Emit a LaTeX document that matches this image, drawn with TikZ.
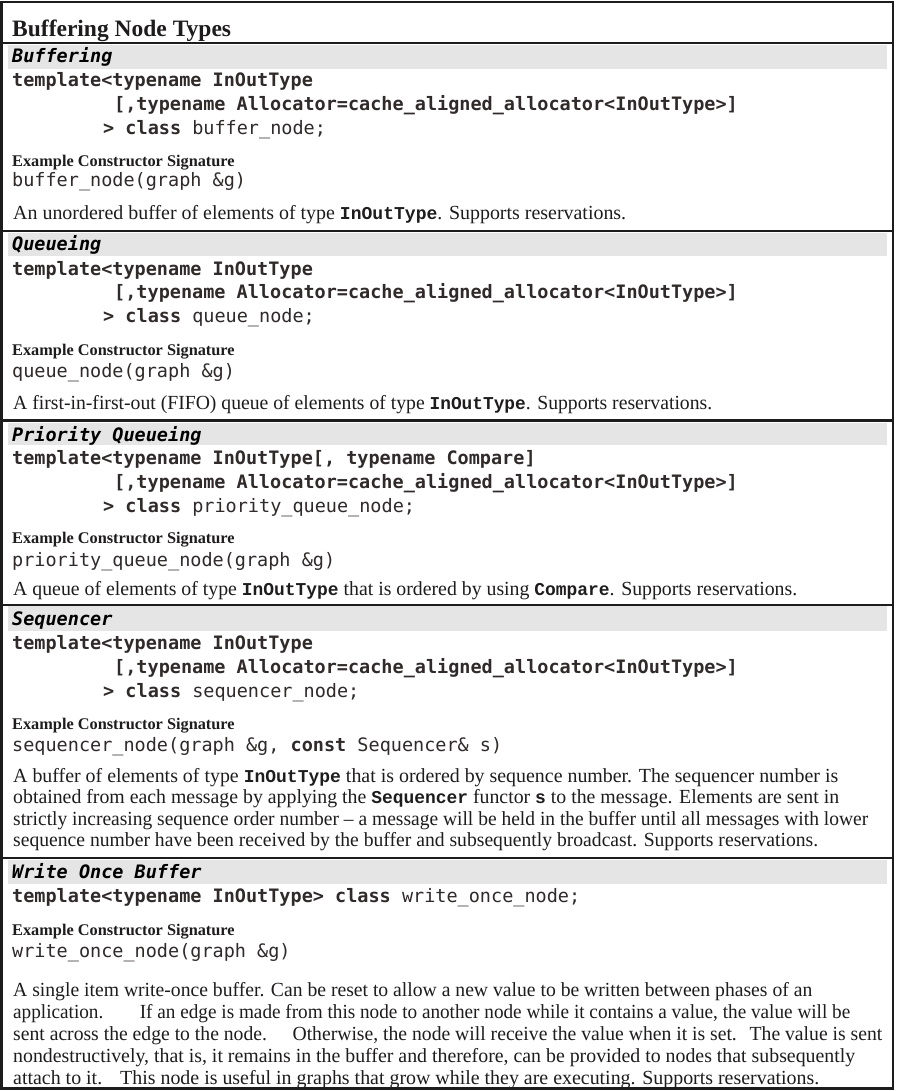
\documentclass[tikz,border=0pt]{standalone}
\usepackage{fontspec}
\usepackage{graphicx}
\setmainfont{Liberation Serif}
\newfontfamily\codefont{DejaVu Sans Mono}[BoldFont={DejaVu Sans Mono Bold},ItalicFont={DejaVu Sans Mono Oblique},BoldItalicFont={DejaVu Sans Mono Bold Oblique}]
\newfontfamily\bmono{Liberation Mono}[BoldFont={Liberation Mono Bold}]
\definecolor{bandgray}{RGB}{229,229,229}
\definecolor{codeink}{RGB}{48,42,42}
\definecolor{bodyink}{RGB}{30,28,28}
\definecolor{ruleink}{RGB}{28,28,28}
\newcommand{\cdfont}{\fontsize{18.5}{22}\selectfont\codefont}
\newcommand{\btfont}{\fontsize{20}{22}\selectfont\rmfamily}
\newcommand{\im}[1]{{\fontsize{18.1}{22}\selectfont\bmono\bfseries #1}}
\newcommand{\fitline}[2]{\resizebox{#1pt}{\height}{#2}}
\tikzset{
  codeline/.style={anchor=base west, inner sep=0pt, font=\cdfont, text=codeink},
  hdrline/.style={anchor=base west, inner sep=0pt, font=\cdfont\bfseries\itshape, text=black},
  exlabel/.style={anchor=base west, inner sep=0pt, font=\fontsize{16.3}{18}\selectfont\bfseries, text=bodyink},
  bodyline/.style={anchor=base west, inner sep=0pt, font=\btfont, text=bodyink},
  titleline/.style={anchor=base west, inner sep=0pt, font=\fontsize{23.5}{26}\selectfont\bfseries, text=bodyink},
  band/.style={fill=bandgray, draw=none},
  seprule/.style={draw=ruleink, line width=2.2pt},
  titlerule/.style={draw=ruleink, line width=1.6pt},
}
\begin{document}
\begin{tikzpicture}[x=1pt,y=-1pt]
\useasboundingbox (0,0) rectangle (897,1091);
\fill[white] (0,0) rectangle (897,1091);
% gray header bands
\path[band] (8,45) rectangle (887,69);
\path[band] (8,233) rectangle (887,256);
\path[band] (8,423) rectangle (887,445);
\path[band] (8,606) rectangle (887,631);
\path[band] (8,860) rectangle (887,884);
% rules
\draw[titlerule] (1.5,43) -- (893,43);
\draw[seprule] (1.5,231) -- (893,231);
\draw[seprule] (1.5,420.5) -- (893,420.5);
\draw[seprule] (1.5,605) -- (893,605);
\draw[seprule] (1.5,858) -- (893,858);
\draw[draw=ruleink, line width=2.2pt] (1.5,2) rectangle (893,1088.5);

% title
\node[titleline] (title) at (12,37) {Buffering Node Types};

% ---------- Buffering ----------
\node[hdrline] (h1) at (12,63) {Buffering};
\node[codeline] (t1a) at (12,87) {\bfseries template<typename InOutType};
\node[codeline] (t1b) at (114,111) {\bfseries [,typename Allocator=cache\_aligned\_allocator<InOutType>]};
\node[codeline] (t1c) at (103,135) {{\bfseries > class} buffer\_node;};
\node[exlabel] (e1) at (12,167) {Example Constructor Signature};
\node[codeline] (c1) at (12,187) {buffer\_node(graph \&g)};
\node[bodyline] (b1) at (13,220) {\fitline{613}{An unordered buffer of elements of type \im{InOutType}. Supports reservations.}};

% ---------- Queueing ----------
\node[hdrline] (h2) at (12,251) {Queueing};
\node[codeline] (t2a) at (12,275) {\bfseries template<typename InOutType};
\node[codeline] (t2b) at (114,298) {\bfseries [,typename Allocator=cache\_aligned\_allocator<InOutType>]};
\node[codeline] (t2c) at (103,322) {{\bfseries > class} queue\_node;};
\node[exlabel] (e2) at (12,355) {Example Constructor Signature};
\node[codeline] (c2) at (12,377) {queue\_node(graph \&g)};
\node[bodyline] (b2) at (13,409) {\fitline{699}{A first-in-first-out (FIFO) queue of elements of type \im{InOutType}. Supports reservations.}};

% ---------- Priority Queueing ----------
\node[hdrline] (h3) at (12,441) {Priority Queueing};
\node[codeline] (t3a) at (12,464) {\bfseries template<typename InOutType[, typename Compare]};
\node[codeline] (t3b) at (114,488) {\bfseries [,typename Allocator=cache\_aligned\_allocator<InOutType>]};
\node[codeline] (t3c) at (103,512) {{\bfseries > class} priority\_queue\_node;};
\node[exlabel] (e3) at (12,543) {Example Constructor Signature};
\node[codeline] (c3) at (12,566) {priority\_queue\_node(graph \&g)};
\node[bodyline] (b3) at (13,595) {\fitline{784}{A queue of elements of type \im{InOutType} that is ordered by using \im{Compare}. Supports reservations.}};

% ---------- Sequencer ----------
\node[hdrline] (h4) at (12,625) {Sequencer};
\node[codeline] (t4a) at (12,649) {\bfseries template<typename InOutType};
\node[codeline] (t4b) at (114,673) {\bfseries [,typename Allocator=cache\_aligned\_allocator<InOutType>]};
\node[codeline] (t4c) at (103,697) {{\bfseries > class} sequencer\_node;};
\node[exlabel] (e4) at (12,729) {Example Constructor Signature};
\node[codeline] (c4) at (12,751) {sequencer\_node(graph \&g, {\bfseries const} Sequencer\& s)};
\node[bodyline] (b4a) at (13,782) {\fitline{825}{A buffer of elements of type \im{InOutType} that is ordered by sequence number. The sequencer number is}};
\node[bodyline] (b4b) at (13,803.5) {\fitline{826}{obtained from each message by applying the \im{Sequencer} functor \im{s} to the message. Elements are sent in}};
\node[bodyline] (b4c) at (13,825) {\fitline{855}{strictly increasing sequence order number – a message will be held in the buffer until all messages with lower}};
\node[bodyline] (b4d) at (13,846.5) {\fitline{805}{sequence number have been received by the buffer and subsequently broadcast. Supports reservations.}};

% ---------- Write Once Buffer ----------
\node[hdrline] (h5) at (12,878) {Write Once Buffer};
\node[codeline] (t5a) at (12,902) {{\bfseries template<typename InOutType> class} write\_once\_node;};
\node[exlabel] (e5) at (12,935) {Example Constructor Signature};
\node[codeline] (c5) at (12,957) {write\_once\_node(graph \&g)};
\node[bodyline] (b5a) at (13,996) {\fitline{799}{A single item write-once buffer. Can be reset to allow a new value to be written between phases of an}};
\node[bodyline] (b5b) at (13,1018) {\fitline{837}{application.\hspace*{38pt}If an edge is made from this node to another node while it contains a value, the value will be}};
\node[bodyline] (b5c) at (13,1040) {\fitline{869}{sent across the edge to the node.\hspace*{26pt}Otherwise, the node will receive the value when it is set.\hspace*{13pt}The value is sent}};
\node[bodyline] (b5d) at (13,1062) {\fitline{842}{nondestructively, that is, it remains in the buffer and therefore, can be provided to nodes that subsequently}};
\node[bodyline] (b5e) at (13,1084) {\fitline{806}{attach to it.\hspace*{18pt}This node is useful in graphs that grow while they are executing. Supports reservations.}};
\end{tikzpicture}
\end{document}
